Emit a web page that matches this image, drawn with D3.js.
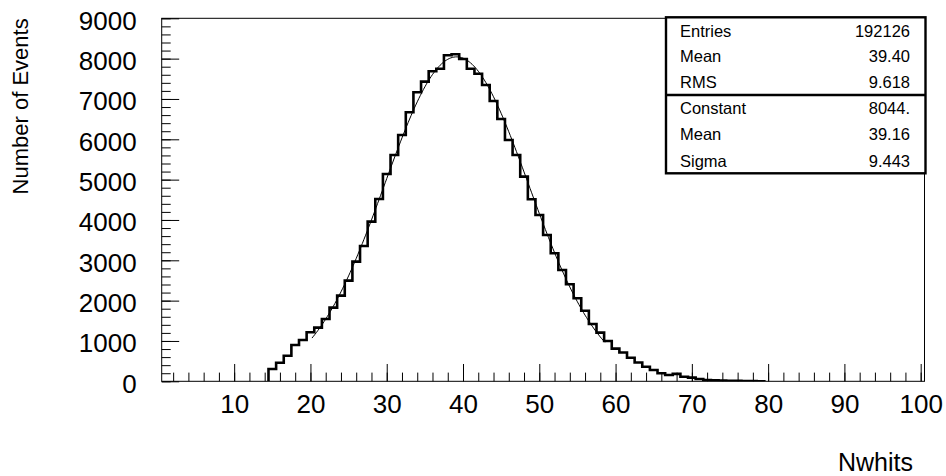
<!DOCTYPE html>
<html>
<head>
<meta charset="utf-8">
<script src="https://cdn.jsdelivr.net/npm/d3@7"></script>
<style>
  body { margin: 0; background: #fff; }
  svg { display: block; font-family: "Liberation Sans", Arial, Helvetica, sans-serif; }
</style>
</head>
<body>
<div id="chart"></div>
<script>
// histogram contents, one value per unit bin, first non-empty bin is 15
const binStart = 15;
const counts = [305, 461, 635, 900, 1024, 1215, 1330, 1545, 1826, 2124,
    2495, 2967, 3355, 3958, 4520, 5140, 5611, 6107, 6670, 7166,
    7429, 7687, 7751, 8083, 8108, 7992, 7751, 7627, 7347, 6950,
    6504, 5983, 5611, 5074, 4513, 4124, 3628, 3174, 2760, 2405,
    2058, 1751, 1421, 1206, 1000, 810, 715, 583, 466, 362,
    280, 198, 156, 185, 114, 90, 57, 33, 25, 20, 15, 10, 8, 5, 3];

const xTicks = [10, 20, 30, 40, 50, 60, 70, 80, 90, 100];
const yTicks = [0, 1000, 2000, 3000, 4000, 5000, 6000, 7000, 8000, 9000];

const statLabels = ["Entries", "Mean", "RMS"];
const statValues = ["192126", "39.40", "9.618"];
const fitLabels = ["Constant", "Mean", "Sigma"];
const fitValues = ["8044.", "39.16", "9.443"];

// gaussian fit parameters (same as the stats box), fitted over mean +- 2 rms
const fitConstant = 8044;
const fitMean = 39.16;
const fitSigma = 9.443;
const fitRange = [20.2, 58.6];

const WIDTH = 946, HEIGHT = 476;
const FRAME_TOP = 18.3, FRAME_BOTTOM = 381.3;

const svg = d3.select("#chart").append("svg")
    .attr("width", WIDTH)
    .attr("height", HEIGHT);

const x = d3.scaleLinear().domain([0.5, 100.5]).range([161.7, 924.5]);
const y = d3.scaleLinear().domain([0, 9000]).range([FRAME_BOTTOM, FRAME_TOP]);

svg.append("clipPath").attr("id", "frameClip")
    .append("rect")
    .attr("x", x(0.5)).attr("y", FRAME_TOP)
    .attr("width", x(100.5) - x(0.5)).attr("height", FRAME_BOTTOM - FRAME_TOP);

// frame
svg.append("rect")
    .attr("x", x(0.5)).attr("y", FRAME_TOP)
    .attr("width", x(100.5) - x(0.5)).attr("height", FRAME_BOTTOM - FRAME_TOP)
    .attr("fill", "none").attr("stroke", "#000").attr("stroke-width", 1);

// y axis: major + minor ticks pointing inside
const yAxis = svg.append("g").attr("transform", `translate(${x(0.5)},0)`)
    .call(d3.axisLeft(y).tickValues(yTicks).tickFormat(d3.format("d"))
        .tickSizeInner(-17.5).tickSizeOuter(0).tickPadding(25));
yAxis.selectAll("text").attr("dy", "0.42em").attr("font-size", 26).attr("fill", "#000")
    .style("font-family", "inherit");
svg.append("g").attr("transform", `translate(${x(0.5)},0)`)
    .call(d3.axisLeft(y).tickValues(d3.range(0, 9001, 200)).tickFormat("")
        .tickSizeInner(-9).tickSizeOuter(0));

// x axis
const xAxis = svg.append("g").attr("transform", `translate(0,${FRAME_BOTTOM})`)
    .call(d3.axisBottom(x).tickValues(xTicks).tickFormat(d3.format("d"))
        .tickSizeInner(-17.3).tickSizeOuter(0).tickPadding(13.5));
xAxis.selectAll("text").attr("font-size", 26).attr("fill", "#000")
    .style("font-family", "inherit");
svg.append("g").attr("transform", `translate(0,${FRAME_BOTTOM})`)
    .call(d3.axisBottom(x).tickValues(d3.range(2, 101, 2)).tickFormat("")
        .tickSizeInner(-8.7).tickSizeOuter(0));

svg.selectAll(".domain").remove();
svg.selectAll(".tick line").attr("stroke", "#000").attr("stroke-width", 1);

// histogram outline
const histPath = d3.path();
histPath.moveTo(x(binStart - 0.5), y(0));
counts.forEach((c, i) => {
    const bin = binStart + i;
    histPath.lineTo(x(bin - 0.5), y(c));
    histPath.lineTo(x(bin + 0.5), y(c));
});
histPath.lineTo(x(binStart + counts.length - 0.5), y(0));

svg.append("path")
    .attr("d", histPath.toString())
    .attr("clip-path", "url(#frameClip)")
    .attr("fill", "none")
    .attr("stroke", "#000")
    .attr("stroke-width", 2.6)
    .attr("stroke-linejoin", "miter");

// gaussian fit curve
const gaus = v => fitConstant * Math.exp(-0.5 * Math.pow((v - fitMean) / fitSigma, 2));
const fitLine = d3.line().x(d => x(d)).y(d => y(gaus(d)));
svg.append("path")
    .datum(d3.range(fitRange[0], fitRange[1] + 0.001, 0.2))
    .attr("d", fitLine)
    .attr("clip-path", "url(#frameClip)")
    .attr("fill", "none")
    .attr("stroke", "#000")
    .attr("stroke-width", 1);

// axis titles
svg.append("text")
    .attr("transform", `translate(28,${FRAME_TOP}) rotate(-90)`)
    .attr("text-anchor", "end")
    .attr("font-size", 22)
    .text("Number of Events");

svg.append("text")
    .attr("x", 913).attr("y", 471)
    .attr("text-anchor", "end")
    .attr("font-size", 25)
    .text("Nwhits");

// stats box
const BOX_X = 666, BOX_Y = 17.3, BOX_W = 259.5, BOX_H = 156, BOX_SEP = 95;
const statBox = svg.append("g");
statBox.append("rect")
    .attr("x", BOX_X).attr("y", BOX_Y).attr("width", BOX_W).attr("height", BOX_H)
    .attr("fill", "#fff").attr("stroke", "#000").attr("stroke-width", 2.4);
statBox.append("line")
    .attr("x1", BOX_X).attr("x2", BOX_X + BOX_W)
    .attr("y1", BOX_SEP).attr("y2", BOX_SEP)
    .attr("stroke", "#000").attr("stroke-width", 2.4);

function statRows(labels, values, top, bottom) {
    const rowH = (bottom - top) / labels.length;
    labels.forEach((lab, i) => {
        const base = top + rowH * (i + 0.5) + 6.3;
        statBox.append("text").attr("x", 680).attr("y", base)
            .attr("font-size", 16.5).text(lab);
        statBox.append("text").attr("x", 910).attr("y", base)
            .attr("font-size", 16.5).attr("text-anchor", "end").text(values[i]);
    });
}
statRows(statLabels, statValues, BOX_Y, BOX_SEP);
statRows(fitLabels, fitValues, BOX_SEP, BOX_Y + BOX_H);
</script>
</body>
</html>
